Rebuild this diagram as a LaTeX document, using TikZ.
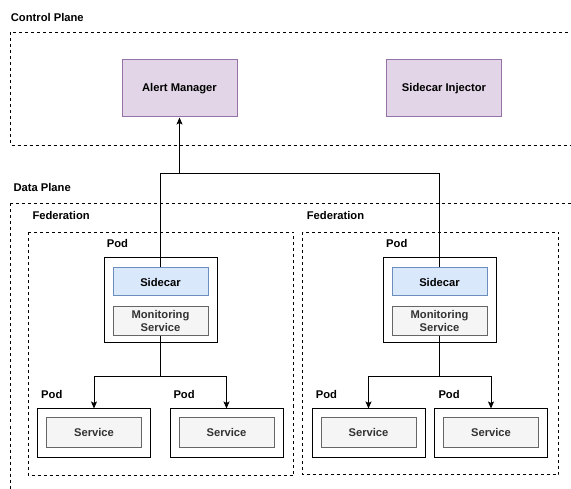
\documentclass[tikz,border=0pt]{standalone}
\usepackage{fontspec}
\setmainfont{Liberation Sans}
\usetikzlibrary{arrows.meta}
\definecolor{pfill}{HTML}{E1D5E7}
\definecolor{pdraw}{HTML}{9673A6}
\definecolor{bfill}{HTML}{DAE8FC}
\definecolor{bdraw}{HTML}{6C8EBF}
\definecolor{gfill}{HTML}{F5F5F5}
\definecolor{gdraw}{HTML}{666666}
\definecolor{gtext}{HTML}{333333}
\tikzset{
  every node/.style={font=\fontsize{11.2}{13}\selectfont\bfseries},
  lbl/.style={anchor=west, inner sep=0pt},
  region/.style={draw=black, line width=1pt, dash pattern=on 3pt off 3pt},
  purplebox/.style={draw=pdraw, fill=pfill, line width=1pt, minimum width=115pt, minimum height=57pt, inner sep=0pt},
  bluebox/.style={draw=bdraw, fill=bfill, line width=1pt, minimum width=95pt, minimum height=28pt, inner sep=0pt},
  graybox/.style={draw=gdraw, fill=gfill, text=gtext, line width=1pt, minimum width=95pt, minimum height=29pt, inner sep=0pt, align=center},
  podbox/.style={draw=black, line width=1pt, minimum width=113pt, inner sep=0pt},
  conn/.style={draw=black, line width=1pt},
  arr/.style={conn, -{Stealth[length=7pt,width=6pt,inset=1.5pt]}},
}
\begin{document}
\begin{tikzpicture}[x=1pt,y=-1pt]
\useasboundingbox (0,0) rectangle (571,489);
\clip (0,0) rectangle (571,489);
\fill[white] (0,0) rectangle (571,489);
% regions
\draw[region] (10.5,32.5) rectangle (590,145.5);
\node[lbl] (cpl) at (10.7,17) {Control Plane};
\draw[region] (10.5,203.5) rectangle (590,510);
\node[lbl] (dpl) at (13.3,187) {Data Plane};
\draw[region] (28.5,232.5) rectangle (293.5,475.5);
\node[lbl] (fl1) at (32.3,215) {Federation};
\draw[region] (302.5,232.5) rectangle (558.5,474.5);
\node[lbl] (fl2) at (306.7,215) {Federation};
% control plane
\node[purplebox] (am) at (179.5,88.5) {Alert Manager};
\node[purplebox] (si) at (444,88.5) {Sidecar Injector};
% top pods
\node[podbox, minimum height=85pt] (lpod) at (160.5,300.5) {};
\node[lbl] (lpodl) at (106.7,243.3) {Pod};
\node[bluebox] (lsc) at (160.5,282) {Sidecar};
\node[graybox] (lms) at (160.5,321) {Monitoring\\Service};
\node[podbox, minimum height=85pt] (rpod) at (439.5,300.5) {};
\node[lbl] (rpodl) at (386,243.3) {Pod};
\node[bluebox] (rsc) at (439.5,282) {Sidecar};
\node[graybox] (rms) at (439.5,321) {Monitoring\\Service};
% lower pods
\node[podbox, minimum height=48pt] (p1) at (94,433) {};
\node[graybox] (s1) at (94,432.5) {Service};
\node[lbl] (p1l) at (41,394.3) {Pod};
\node[podbox, minimum height=48pt] (p2) at (226.5,433) {};
\node[graybox] (s2) at (226.5,432.5) {Service};
\node[lbl] (p2l) at (173.3,394.3) {Pod};
\node[podbox, minimum height=48pt] (p3) at (368.5,433) {};
\node[graybox] (s3) at (368.5,432.5) {Service};
\node[lbl] (p3l) at (315.7,394.3) {Pod};
\node[podbox, minimum height=48pt] (p4) at (491,433) {};
\node[graybox] (s4) at (491,432.5) {Service};
\node[lbl] (p4l) at (438.3,394.3) {Pod};
% connectors
\coordinate (bus) at (179.5,173.5);
\draw[conn] (lsc.north) -- (lsc.north |- bus) -- (rsc.north |- bus) -- (rsc.north);
\draw[arr] (bus) -- (am.south);
\coordinate (lb) at (160.5,376.5);
\coordinate (rb) at (439.5,376.5);
\draw[conn] (lms.south) -- (lb);
\draw[arr] (lb) -| (p1.north);
\draw[arr] (lb) -| (p2.north);
\draw[conn] (rms.south) -- (rb);
\draw[arr] (rb) -| (p3.north);
\draw[arr] (rb) -| (p4.north);
\end{tikzpicture}
\end{document}
